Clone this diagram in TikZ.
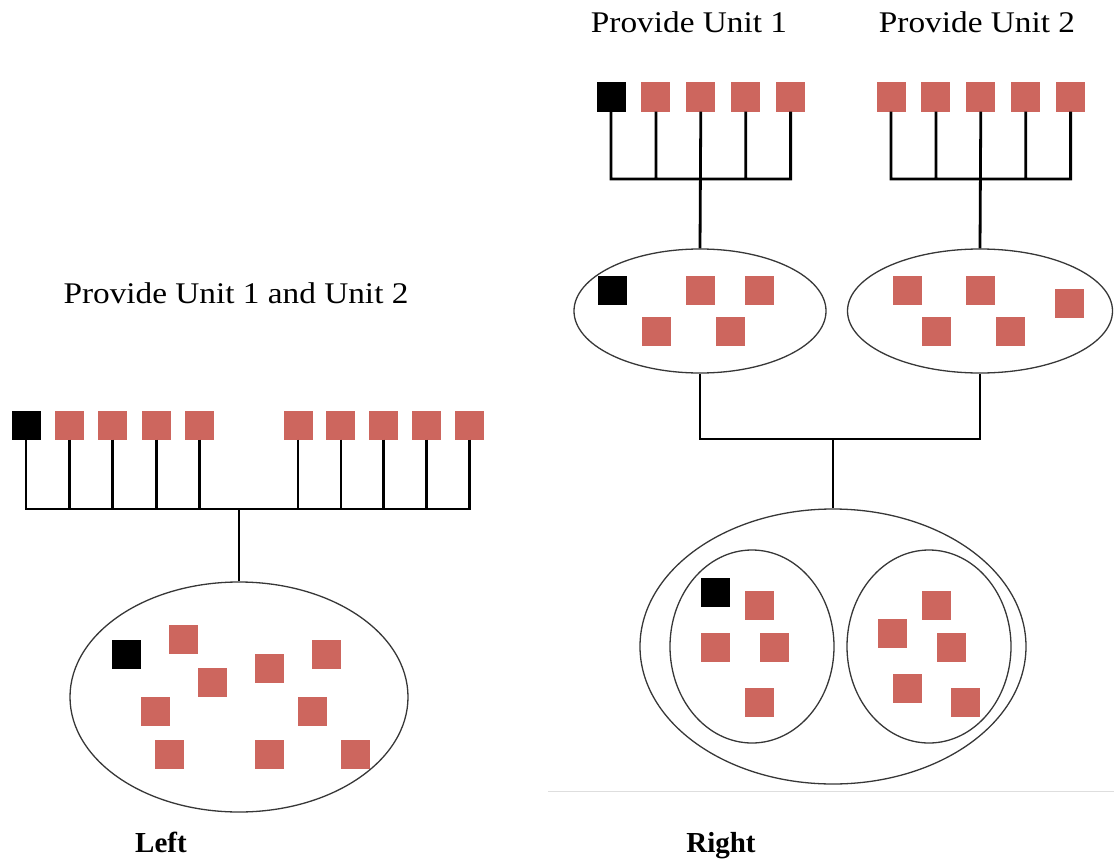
\documentclass[tikz,border=0pt]{standalone}
\usepackage{fontspec}
\setmainfont{Liberation Serif}
\newfontfamily\widefont[FakeStretch=1.11]{Liberation Serif}
\usetikzlibrary{positioning,shapes.geometric}
\definecolor{unitclr}{RGB}{205,102,94}
\definecolor{leadclr}{RGB}{0,0,0}
\definecolor{poolclr}{RGB}{55,55,55}
\definecolor{ruleclr}{RGB}{222,222,222}
\tikzset{ %
  ,every node/.style={font=\fontsize{30}{34}\selectfont}
  ,lead/.style={rectangle, inner sep=0, minimum size=29pt, fill=leadclr}
  ,unit/.style={rectangle, inner sep=0, minimum size=29pt, fill=unitclr}
  ,pool/.style={draw=poolclr, ellipse, inner sep=0, line width=1.3pt}
  ,wire/.style={line width=2.8pt}
  ,lbl/.style={inner sep=0, font=\widefont\fontsize{30}{34}\selectfont}
  ,sidelbl/.style={inner sep=0, anchor=base, font=\fontsize{29}{33}\selectfont\bfseries}
}

\begin{document}
\begin{tikzpicture}[x=1pt, y=-1pt]
  \useasboundingbox (0,0) rectangle (1114,859);
  % left: one unit with both
  \draw
  node[lbl] (tl) at (236,293) {Provide Unit 1 and Unit 2}
  node[lead] (l0) at (26,425) {}
  node[unit, right=14pt of l0] (l1) {}
  node[unit, right=14pt of l1] (l2) {}
  node[unit, right=14pt of l2] (l3) {}
  node[unit, right=14pt of l3] (l4) {}
  node[unit, right=69pt of l4] (l5) {}
  node[unit, right=13.5pt of l5] (l6) {}
  node[unit, right=13.5pt of l6] (l7) {}
  node[unit, right=13.5pt of l7] (l8) {}
  node[unit, right=13.5pt of l8] (l9) {}
  node[pool, minimum width=338pt, minimum height=230pt] (poolL) at (239,697) {}
  node[lead] (pl0) at (126,654) {}
  node[unit] (pl1) at (183,639) {}
  node[unit] (pl2) at (212,682) {}
  node[unit] (pl3) at (269,668) {}
  node[unit] (pl4) at (326,654) {}
  node[unit] (pl5) at (155,711) {}
  node[unit] (pl6) at (312,711) {}
  node[unit] (pl7) at (169,754) {}
  node[unit] (pl8) at (269,754) {}
  node[unit] (pl9) at (355,754) {};
  \coordinate (hubL) at (239,509);
  \draw[wire] (l0.south) |- (hubL) (l9.south) |- (hubL)
    (l1.south) -- (l1.south |- hubL) (l2.south) -- (l2.south |- hubL)
    (l3.south) -- (l3.south |- hubL) (l4.south) -- (l4.south |- hubL)
    (l5.south) -- (l5.south |- hubL) (l6.south) -- (l6.south |- hubL)
    (l7.south) -- (l7.south |- hubL) (l8.south) -- (l8.south |- hubL)
    (hubL) -- (poolL.north);

  % right: two units, then merged
  \draw
  node[lbl] (ta) at (689,22) {Provide Unit 1}
  node[lbl] (tb) at (977,22) {Provide Unit 2}
  node[lead] (a0) at (611,97) {}
  node[unit, right=15.5pt of a0] (a1) {}
  node[unit, right=15.5pt of a1] (a2) {}
  node[unit, right=15.5pt of a2] (a3) {}
  node[unit, right=15.5pt of a3] (a4) {}
  node[unit] (b0) at (891,97) {}
  node[unit, right=15.5pt of b0] (b1) {}
  node[unit, right=15.5pt of b1] (b2) {}
  node[unit, right=15.5pt of b2] (b3) {}
  node[unit, right=15.5pt of b3] (b4) {}
  node[pool, minimum width=252pt, minimum height=124pt] (poolA) at (700,311) {}
  node[pool, minimum width=265pt, minimum height=124pt] (poolB) at (980,311) {}
  node[lead] (pa0) at (612,290) {}
  node[unit] (pa1) at (700,290) {}
  node[unit] (pa2) at (759,290) {}
  node[unit] (pa3) at (656,331) {}
  node[unit] (pa4) at (730,331) {}
  node[unit] (pb0) at (907,290) {}
  node[unit] (pb1) at (980,290) {}
  node[unit] (pb2) at (1069,303) {}
  node[unit] (pb3) at (936,331) {}
  node[unit] (pb4) at (1010,331) {}
  node[pool, minimum width=386pt, minimum height=275pt] (poolC) at (833,646.5) {}
  node[pool, minimum width=164pt, minimum height=193pt] (poolD) at (752,646.5) {}
  node[pool, minimum width=164pt, minimum height=193pt] (poolE) at (929,646.5) {}
  node[lead] (pd0) at (715,592) {}
  node[unit] (pd1) at (759,605.5) {}
  node[unit] (pd2) at (715,647) {}
  node[unit] (pd3) at (774,647) {}
  node[unit] (pd4) at (759,702) {}
  node[unit] (pe0) at (936,605.5) {}
  node[unit] (pe1) at (892,633) {}
  node[unit] (pe2) at (951,647) {}
  node[unit] (pe3) at (907,688) {}
  node[unit] (pe4) at (965,702) {};
  \coordinate (hubA) at (700,179);
  \coordinate (hubB) at (980,179);
  \coordinate (hubM) at (833,439);
  \draw[wire] (a0.south) |- (hubA) (a4.south) |- (hubA)
    (a1.south) -- (a1.south |- hubA) (a3.south) -- (a3.south |- hubA)
    (a2.south) -- (poolA.north);
  \draw[wire] (b0.south) |- (hubB) (b4.south) |- (hubB)
    (b1.south) -- (b1.south |- hubB) (b3.south) -- (b3.south |- hubB)
    (b2.south) -- (poolB.north);
  \draw[wire] (poolA.south) |- (hubM) (poolB.south) |- (hubM)
    (hubM) -- (poolC.north);
  \draw[ruleclr, line width=1pt] (548,791) -- (1114,791);

  \node[sidelbl] (left) at (161,852) {Left};
  \node[sidelbl] (right) at (721,852) {Right};
\end{tikzpicture}
\end{document}
